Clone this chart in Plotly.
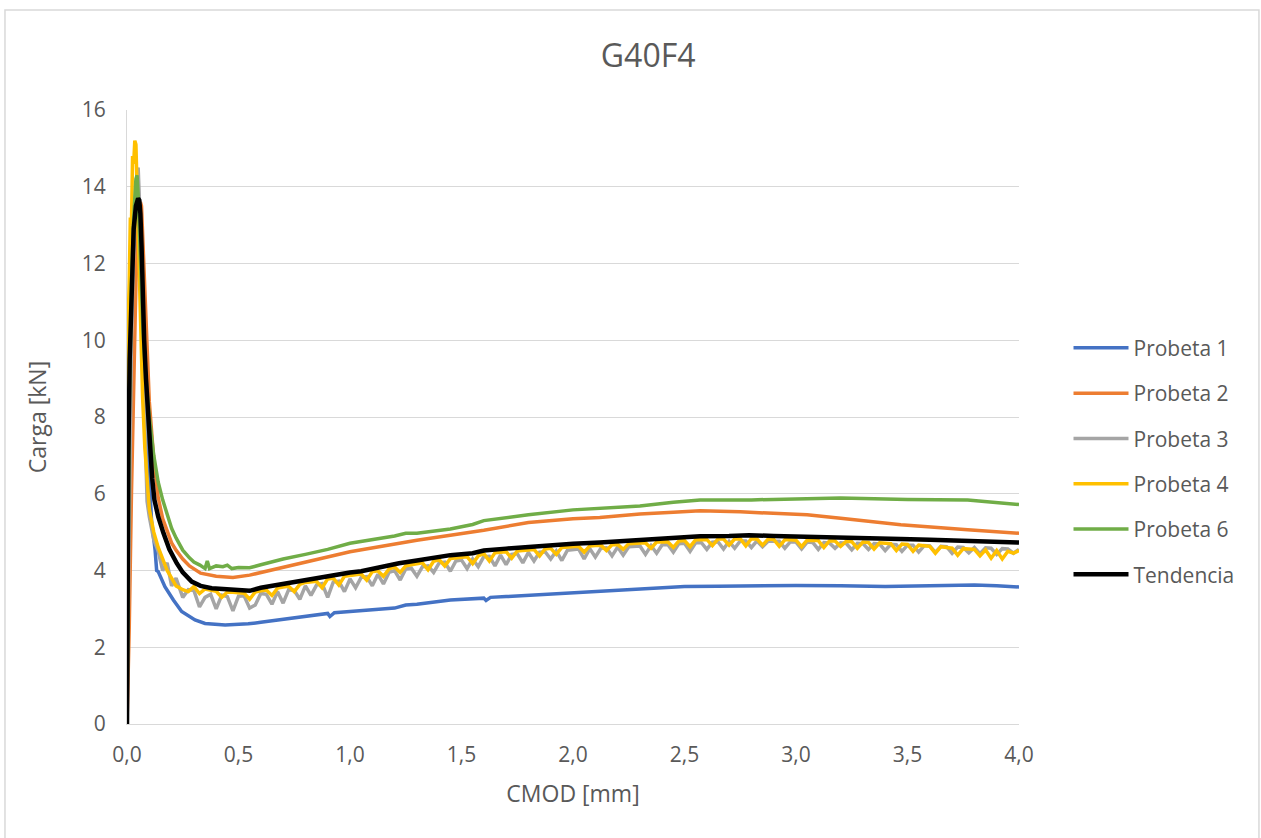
import plotly.graph_objects as go

# ---------------- data ----------------
p1_x = [0, 0.003, 0.01, 0.02, 0.03, 0.04, 0.05, 0.06, 0.07, 0.08, 0.09, 0.10, 0.11, 0.126, 0.133,
        0.14, 0.17, 0.208, 0.245, 0.305, 0.35, 0.44, 0.544, 0.6, 0.7, 0.843, 0.9, 0.91, 0.93, 1.0,
        1.1, 1.2, 1.25, 1.3, 1.45, 1.6, 1.61, 1.63, 1.7, 1.85, 2.0, 2.12, 2.3, 2.4, 2.45, 2.5,
        2.65, 2.79, 3.0, 3.2, 3.4, 3.6, 3.8, 3.9, 4.0]
p1_y = [0, 3.5, 7.5, 10.5, 12.3, 13.0, 13.2, 12.2, 10.4, 9.0, 7.6, 6.2, 5.3, 4.53, 4.0,
        3.97, 3.58, 3.23, 2.93, 2.71, 2.62, 2.58, 2.61, 2.65, 2.72, 2.84, 2.88, 2.8, 2.9, 2.93,
        2.97, 3.02, 3.1, 3.12, 3.23, 3.28, 3.22, 3.3, 3.32, 3.37, 3.42, 3.47, 3.52, 3.55, 3.58, 3.58,
        3.59, 3.6, 3.61, 3.6, 3.58, 3.6, 3.62, 3.6, 3.57]

p2_x = [0, 0.01, 0.02, 0.03, 0.04, 0.05, 0.06, 0.065, 0.07, 0.08, 0.09, 0.10, 0.12, 0.14, 0.16,
        0.18, 0.20, 0.22, 0.25, 0.28, 0.33, 0.40, 0.475, 0.55, 0.7, 0.8, 1.0, 1.3, 1.45, 1.6, 1.8,
        2.0, 2.12, 2.3, 2.45, 2.57, 2.75, 2.93, 3.05, 3.2, 3.47, 3.77, 4.0]
p2_y = [0, 2.5, 6.0, 9.0, 11.5, 13.0, 13.6, 13.5, 12.8, 11.0, 9.5, 8.4, 6.9, 5.9, 5.35,
        5.0, 4.72, 4.53, 4.3, 4.12, 3.93, 3.85, 3.82, 3.88, 4.08, 4.22, 4.49, 4.79, 4.92, 5.05, 5.25,
        5.35, 5.38, 5.47, 5.52, 5.56, 5.53, 5.49, 5.45, 5.36, 5.19, 5.06, 4.97]

p3_early_x = [0, 0.01, 0.02, 0.03, 0.04, 0.05, 0.06, 0.07, 0.08, 0.09, 0.10, 0.12, 0.14, 0.16,
              0.18, 0.20, 0.22, 0.25, 0.275]
p3_early_y = [0, 6.0, 10.0, 12.5, 14.0, 14.5, 13.0, 10.0, 7.5, 5.8, 5.4, 4.8, 4.5, 4.0,
              4.2, 3.6, 3.8, 3.3, 3.5]
p3_late_y = [3.48, 3.05, 3.30, 3.38, 3.00, 3.36, 3.32, 2.95, 3.33, 3.34, 3.02, 3.10,
             3.40, 3.38, 3.12, 3.45, 3.15, 3.50, 3.48, 3.25, 3.60, 3.35, 3.62, 3.66,
             3.30, 3.70, 3.72, 3.45, 3.78, 3.55, 3.82, 3.84, 3.60, 3.90, 3.65, 3.95,
             4.00, 3.75, 4.04, 4.06, 3.85, 4.10, 4.12, 3.95, 4.20, 4.22, 3.98, 4.25,
             4.27, 4.05, 4.30, 4.10, 4.36, 4.37, 4.12, 4.40, 4.15, 4.42, 4.44, 4.20,
             4.47, 4.25, 4.48, 4.49, 4.30, 4.51, 4.26, 4.53, 4.55, 4.56, 4.30, 4.57,
             4.35, 4.58, 4.59, 4.38, 4.61, 4.40, 4.62, 4.63, 4.64, 4.42, 4.65, 4.45,
             4.67, 4.68, 4.48, 4.70, 4.71, 4.50, 4.72, 4.73, 4.55, 4.74, 4.75, 4.56,
             4.76, 4.58, 4.77, 4.77, 4.60, 4.77, 4.62, 4.76, 4.75, 4.76, 4.58, 4.75,
             4.74, 4.56, 4.74, 4.73, 4.55, 4.73, 4.72, 4.58, 4.72, 4.71, 4.54, 4.71,
             4.70, 4.55, 4.70, 4.69, 4.52, 4.68, 4.67, 4.50, 4.66, 4.66, 4.48, 4.65,
             4.64, 4.47, 4.63, 4.62, 4.45, 4.61, 4.60, 4.46, 4.60, 4.44, 4.59, 4.58,
             4.42, 4.57, 4.56, 4.45, 4.55]

p4_early_x = [0, 0.005, 0.01, 0.015, 0.02, 0.025, 0.03, 0.035, 0.04, 0.045, 0.05, 0.06, 0.07,
              0.08, 0.09, 0.10, 0.12, 0.14, 0.16, 0.18, 0.20, 0.22, 0.25, 0.275]
p4_early_y = [0, 10.5, 11.5, 13.2, 13.0, 14.8, 14.6, 15.2, 15.1, 14.0, 12.5, 10.5, 8.5,
              7.2, 6.3, 5.6, 5.0, 4.6, 4.3, 4.0, 3.8, 3.6, 3.5, 3.45]
p4_late_y = [3.58, 3.40, 3.52, 3.48, 3.46, 3.30, 3.44, 3.43, 3.42, 3.41, 3.25, 3.44,
             3.47, 3.49, 3.35, 3.54, 3.57, 3.59, 3.45, 3.64, 3.69, 3.70, 3.72, 3.55,
             3.78, 3.80, 3.62, 3.85, 3.87, 3.89, 3.91, 3.75, 3.97, 3.99, 3.85, 4.04,
             4.09, 3.95, 4.12, 4.15, 4.18, 4.20, 4.02, 4.24, 4.28, 4.12, 4.31, 4.32,
             4.34, 4.36, 4.18, 4.38, 4.44, 4.25, 4.46, 4.47, 4.49, 4.32, 4.51, 4.52,
             4.54, 4.55, 4.38, 4.56, 4.58, 4.42, 4.60, 4.61, 4.62, 4.63, 4.48, 4.64,
             4.65, 4.66, 4.52, 4.67, 4.68, 4.55, 4.70, 4.71, 4.71, 4.72, 4.58, 4.74,
             4.74, 4.75, 4.60, 4.77, 4.78, 4.62, 4.80, 4.80, 4.81, 4.65, 4.82, 4.82,
             4.66, 4.82, 4.83, 4.64, 4.83, 4.82, 4.66, 4.82, 4.81, 4.63, 4.80, 4.80,
             4.79, 4.62, 4.79, 4.78, 4.78, 4.60, 4.77, 4.77, 4.63, 4.76, 4.75, 4.58,
             4.74, 4.73, 4.56, 4.72, 4.71, 4.70, 4.52, 4.69, 4.68, 4.50, 4.66, 4.65,
             4.63, 4.45, 4.62, 4.60, 4.58, 4.40, 4.57, 4.56, 4.55, 4.38, 4.54, 4.32,
             4.52, 4.30, 4.50, 4.45, 4.52]

# CMOD sampling of the noisy late part (0.300 ... 4.000 mm every 0.025 mm)
late_x = [round(0.3 + 0.025 * i, 3) for i in range(149)]

p6_x = [0, 0.005, 0.01, 0.02, 0.03, 0.04, 0.045, 0.05, 0.06, 0.07, 0.08, 0.09, 0.10, 0.12, 0.14,
        0.16, 0.18, 0.20, 0.22, 0.25, 0.28, 0.30, 0.327, 0.35, 0.36, 0.37, 0.40, 0.43, 0.45, 0.47,
        0.50, 0.55, 0.6, 0.7, 0.8, 0.9, 1.0, 1.1, 1.2, 1.25, 1.3, 1.45, 1.55, 1.6, 1.7, 1.8, 2.0,
        2.12, 2.3, 2.45, 2.57, 2.8, 3.0, 3.2, 3.5, 3.77, 4.0]
p6_y = [0, 4.5, 8.0, 11.5, 13.2, 14.2, 14.3, 13.8, 12.0, 10.5, 9.4, 8.6, 8.0, 7.0, 6.3,
        5.84, 5.45, 5.1, 4.85, 4.53, 4.33, 4.22, 4.14, 4.05, 4.25, 4.05, 4.12, 4.1, 4.14, 4.05,
        4.08, 4.07, 4.15, 4.3, 4.42, 4.55, 4.71, 4.8, 4.9, 4.97, 4.97, 5.08, 5.2, 5.3, 5.38, 5.45, 5.58,
        5.62, 5.68, 5.78, 5.84, 5.84, 5.87, 5.89, 5.85, 5.84, 5.72]

tend_x = [0, 0.002, 0.006, 0.012, 0.02, 0.03, 0.04, 0.05, 0.055, 0.06, 0.065, 0.07, 0.077, 0.085,
          0.095, 0.105, 0.113, 0.123, 0.14, 0.163, 0.19, 0.223, 0.25, 0.29, 0.33, 0.38, 0.45, 0.55,
          0.6, 0.7, 0.776, 0.85, 0.9, 0.95, 1.0, 1.05, 1.1, 1.22, 1.3, 1.45, 1.55, 1.6, 1.7, 1.8,
          1.9, 2.0, 2.12, 2.2, 2.3, 2.4, 2.5, 2.57, 2.7, 2.79, 2.9, 3.0, 3.1, 3.2, 3.3, 3.47, 3.6,
          3.77, 3.9, 4.0]
tend_y = [0, 4.0, 7.0, 9.5, 11.5, 12.9, 13.5, 13.7, 13.65, 13.3, 12.5, 11.3, 10.0, 9.0,
          8.0, 7.0, 6.4, 5.84, 5.4, 4.98, 4.55, 4.19, 3.95, 3.71, 3.6, 3.54, 3.5, 3.47,
          3.55, 3.65, 3.75, 3.82, 3.86, 3.9, 3.95, 3.98, 4.05, 4.19, 4.26, 4.40, 4.45, 4.52, 4.57, 4.62,
          4.66, 4.70, 4.73, 4.76, 4.79, 4.82, 4.86, 4.89, 4.90, 4.92, 4.90, 4.89, 4.88, 4.87, 4.86, 4.82, 4.80,
          4.77, 4.75, 4.73]

series = [
    ("Probeta 1", p1_x, p1_y, "#4472C4", 3.5),
    ("Probeta 2", p2_x, p2_y, "#ED7D31", 3.5),
    ("Probeta 3", p3_early_x + late_x, p3_early_y + p3_late_y, "#A5A5A5", 3.5),
    ("Probeta 4", p4_early_x + late_x, p4_early_y + p4_late_y, "#FFC000", 3.5),
    ("Probeta 6", p6_x, p6_y, "#70AD47", 3.5),
    ("Tendencia", tend_x, tend_y, "#000000", 4.5),
]

title_text = "G40F4"
x_title = "CMOD [mm]"
y_title = "Carga [kN]"

# ---------------- figure ----------------
FONT = "Open Sans, Noto Sans, sans-serif"
TXT = "#595959"

fig = go.Figure()
for name, xs, ys, col, w in series:
    fig.add_trace(go.Scatter(x=xs, y=ys, mode="lines", name=name, legendgroup=name,
                             line=dict(color=col, width=w)))

fig.update_layout(
    width=1261, height=838,
    margin=dict(l=127, r=242, t=110, b=114),
    paper_bgcolor="white", plot_bgcolor="white",
    separators=", ",
    font=dict(family=FONT, color=TXT, size=21),
    title=dict(text=title_text, x=0.514, xanchor="center", y=0.934, yanchor="middle",
               font=dict(size=32, color=TXT, family=FONT)),
    showlegend=True,
    legend=dict(x=1.0555, xanchor="left", y=0.428, yanchor="middle",
                font=dict(size=21, color=TXT, family=FONT),
                tracegroupgap=15, itemwidth=55, bgcolor="rgba(0,0,0,0)"),
    xaxis=dict(range=[0, 4], dtick=0.5, tick0=0, tickformat=".1f", showgrid=False,
               showline=True, linecolor="#d9d9d9", linewidth=1, zeroline=False,
               ticks="", ticklabelstandoff=12,
               title=dict(text=x_title, font=dict(size=23, color=TXT), standoff=18),
               tickfont=dict(size=21, color=TXT)),
    yaxis=dict(range=[0, 16], dtick=2, tick0=0, showgrid=True, gridcolor="#d9d9d9", gridwidth=1,
               showline=True, linecolor="#d9d9d9", linewidth=1, zeroline=False,
               ticks="", ticklabelstandoff=16,
               title=dict(text=y_title, font=dict(size=23, color=TXT), standoff=28),
               tickfont=dict(size=21, color=TXT)),
)

fig.add_shape(type="rect", xref="paper", yref="paper",
              x0=-0.1368, x1=1.269, y0=-0.25, y1=1.1629,
              line=dict(color="#d9d9d9", width=1.5), layer="below")

fig.write_html("out.html", config={"displayModeBar": False},
               post_script="document.body.style.margin='0';")
